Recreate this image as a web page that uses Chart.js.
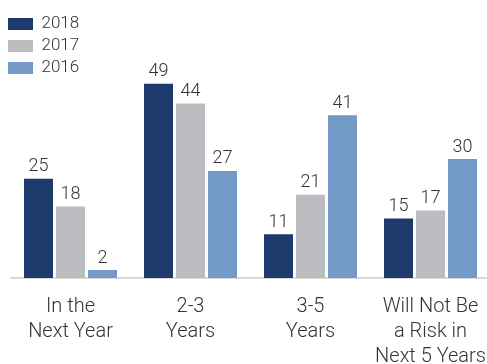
<!DOCTYPE html>
<html>
<head>
<meta charset="utf-8">
<script src="https://cdn.jsdelivr.net/npm/chart.js@4.4.1/dist/chart.umd.min.js"></script>
<style>
  html, body { margin: 0; padding: 0; background: #fff; overflow: hidden; }
  #wrap { width: 491px; height: 364px; }
</style>
</head>
<body>
<div id="wrap"><canvas id="myChart" width="491" height="364"></canvas></div>
<script>
var categories = [['In the', 'Next Year'], ['2-3', 'Years'], ['3-5', 'Years'], ['Will Not Be', 'a Risk in', 'Next 5 Years']];
var years = ['2018', '2017', '2016'];
var values2018 = [25, 49, 11, 15];
var values2017 = [18, 44, 21, 17];
var values2016 = [2, 27, 41, 30];
var colors = ['#1c3a6b', '#bcbdc1', '#7399c6'];

var textColor = '#333333';
var fontFamily = "Roboto, 'Liberation Sans', Arial, sans-serif";

// numbers above each bar
var valueLabels = {
  id: 'valueLabels',
  afterDatasetsDraw: function (chart) {
    var ctx = chart.ctx;
    ctx.save();
    ctx.font = '300 18px ' + fontFamily;
    ctx.fillStyle = textColor;
    ctx.textAlign = 'center';
    ctx.textBaseline = 'bottom';
    chart.data.datasets.forEach(function (ds, i) {
      chart.getDatasetMeta(i).data.forEach(function (bar, j) {
        ctx.fillText(String(ds.data[j]), bar.x, bar.y - 3);
      });
    });
    ctx.restore();
  }
};

// keep the legend tucked in the top-left corner
var legendCorner = {
  id: 'legendCorner',
  afterLayout: function (chart) {
    chart.legend.left = 3;
    chart.legend.top = 10.5;
  }
};

var chartData = {
  labels: categories,
  datasets: [
    { label: years[0], data: values2018, backgroundColor: colors[0], borderWidth: 0 },
    { label: years[1], data: values2017, backgroundColor: colors[1], borderWidth: 0 },
    { label: years[2], data: values2016, backgroundColor: colors[2], borderWidth: 0 }
  ]
};

var chart = document.getElementById('myChart').getContext('2d');
var myChart = new Chart(chart, {
  type: 'bar',
  data: chartData,
  plugins: [valueLabels, legendCorner],
  options: {
    responsive: false,
    animation: false,
    categoryPercentage: 0.8,
    barPercentage: 0.906,
    layout: {
      padding: { top: 40, left: 10.5, right: 0.5, bottom: 0 }
    },
    scales: {
      x: {
        grid: { display: false, drawTicks: false },
        border: { display: true, color: '#d9d9d9', width: 2 },
        ticks: {
          color: textColor,
          padding: 16,
          maxRotation: 0,
          autoSkip: false,
          font: { family: fontFamily, size: 20, weight: '300', lineHeight: 1.25 }
        },
        afterFit: function (scale) {
          scale.height = 86;
          scale.paddingLeft = 0;
          scale.paddingRight = 0;
        }
      },
      y: {
        display: false,
        min: 0,
        max: 60
      }
    },
    plugins: {
      legend: {
        position: 'chartArea',
        align: 'start',
        labels: {
          color: textColor,
          boxWidth: 25,
          boxHeight: 12,
          padding: 5,
          font: { family: fontFamily, size: 17, weight: '300' }
        }
      },
      tooltip: { enabled: false }
    }
  }
});
</script>
</body>
</html>
